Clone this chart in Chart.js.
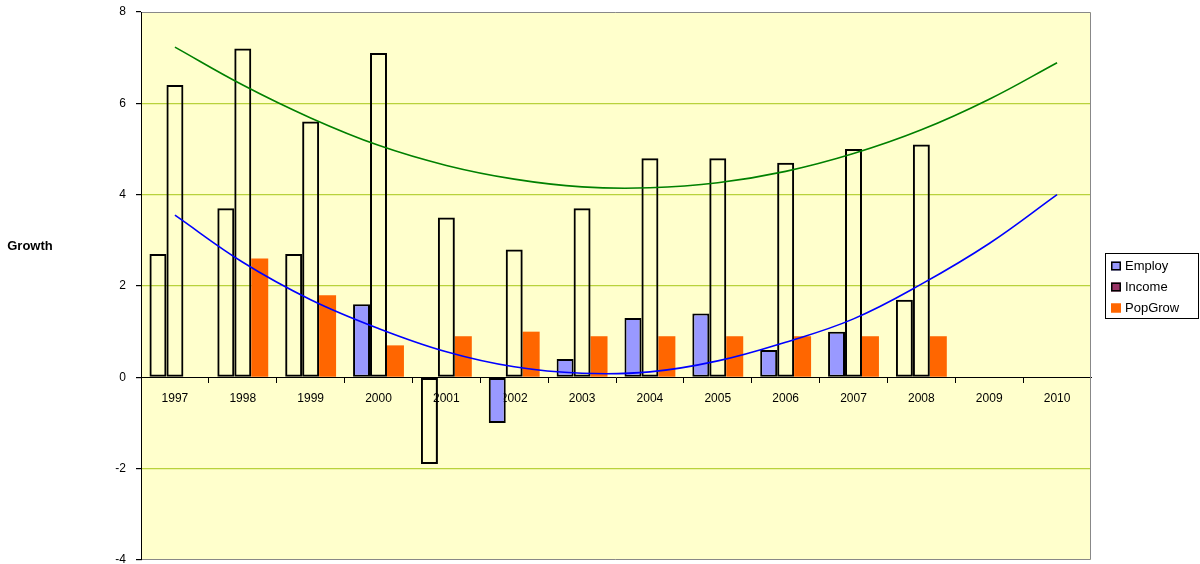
<!DOCTYPE html>
<html>
<head>
<meta charset="utf-8">
<script src="https://cdn.jsdelivr.net/npm/chart.js@4/dist/chart.umd.min.js"></script>
<style>
  html, body { margin: 0; padding: 0; background: #fff; }
  #wrap { width: 1200px; height: 564px; position: relative; }
</style>
</head>
<body>
<div id="wrap"><canvas id="growthChart" width="1200" height="564"></canvas></div>
<script>
const years = ['1997', '1998', '1999', '2000', '2001', '2002', '2003', '2004', '2005', '2006', '2007', '2008', '2009', '2010'];
const employ = [2.7, 3.7, 2.7, 1.6, -1.9, -1.0, 0.4, 1.3, 1.4, 0.6, 1.0, 1.7, null, null];
const income = [6.4, 7.2, 5.6, 7.1, 3.5, 2.8, 3.7, 4.8, 4.8, 4.7, 5.0, 5.1, null, null];
const popGrow = [null, 2.6, 1.8, 0.7, 0.9, 1.0, 0.9, 0.9, 0.9, 0.9, 0.9, 0.9, null, null];
// polynomial trend lines, read at each year
const incomeTrend = [7.23, 6.40, 5.68, 5.08, 4.64, 4.34, 4.17, 4.15, 4.26, 4.51, 4.90, 5.42, 6.09, 6.89];
const employTrend = [3.55, 2.52, 1.70, 1.07, 0.56, 0.23, 0.09, 0.12, 0.36, 0.77, 1.28, 2.04, 2.93, 4.00];
const yTicks = [-4, -2, 0, 2, 4, 6, 8];

const FONT = "'Liberation Sans', Arial, sans-serif";
const PLOT_BG = '#FFFFCC';
const GRID = '#B8D23C';
const EMPLOY = '#9999FF';
const INCOME = '#993366';
const POP = '#FF6600';

// Employ bars that Excel left unfilled
const employOpen = ['1997', '1998', '1999', '2001', '2008'];

const plotBackground = {
  id: 'plotBackground',
  beforeDraw(chart) {
    const { ctx, chartArea: a } = chart;
    ctx.save();
    ctx.fillStyle = PLOT_BG;
    ctx.fillRect(a.left, a.top, a.right - a.left, a.bottom - a.top);
    ctx.restore();
  },
  afterDraw(chart) {
    const { ctx, chartArea: a } = chart;
    ctx.save();
    ctx.strokeStyle = '#888';
    ctx.lineWidth = 1;
    ctx.beginPath();
    ctx.moveTo(a.left, a.top + 0.5);
    ctx.lineTo(a.right - 0.5, a.top + 0.5);
    ctx.lineTo(a.right - 0.5, a.bottom - 0.5);
    ctx.lineTo(a.left, a.bottom - 0.5);
    ctx.stroke();
    ctx.strokeStyle = '#000';
    ctx.beginPath();
    ctx.moveTo(a.left + 0.5, a.top);
    ctx.lineTo(a.left + 0.5, a.bottom);
    ctx.stroke();

    // axis title
    ctx.fillStyle = '#000';
    ctx.font = 'bold 13px ' + FONT;
    ctx.textAlign = 'center';
    ctx.textBaseline = 'middle';
    ctx.fillText('Growth', 30, 246);

    // legend box
    const lx = 1105, ly = 253, lw = 93, lh = 65;
    ctx.fillStyle = '#fff';
    ctx.fillRect(lx, ly, lw, lh);
    ctx.strokeStyle = '#000';
    ctx.strokeRect(lx + 0.5, ly + 0.5, lw, lh);
    const items = [
      { label: 'Employ', color: EMPLOY, border: '#000' },
      { label: 'Income', color: INCOME, border: '#000' },
      { label: 'PopGrow', color: POP, border: POP }
    ];
    ctx.font = '13px ' + FONT;
    ctx.textAlign = 'left';
    ctx.lineWidth = 1.5;
    items.forEach((it, i) => {
      const cy = ly + 13 + i * 21;
      ctx.fillStyle = it.color;
      ctx.fillRect(lx + 6, cy - 4.5, 10, 9);
      ctx.strokeStyle = it.border;
      ctx.strokeRect(lx + 6.75, cy - 3.75, 8.5, 7.5);
      ctx.fillStyle = '#000';
      ctx.fillText(it.label, lx + 20, cy);
    });
    ctx.restore();
  }
};

const ctx = document.getElementById('growthChart').getContext('2d');
new Chart(ctx, {
  type: 'bar',
  data: {
    labels: years,
    datasets: [
      {
        type: 'line', label: 'Income trend', data: incomeTrend,
        borderColor: '#008000', borderWidth: 1.6, pointRadius: 0, tension: 0.4,
        fill: false, order: 0
      },
      {
        type: 'line', label: 'Employ trend', data: employTrend,
        borderColor: '#0000FF', borderWidth: 1.6, pointRadius: 0, tension: 0.4,
        fill: false, order: 0
      },
      {
        label: 'Employ', data: employ, order: 1,
        backgroundColor: years.map(y => employOpen.includes(y) ? 'rgba(0,0,0,0)' : EMPLOY),
        borderColor: '#000', borderWidth: 2, borderSkipped: false
      },
      {
        label: 'Income', data: income, order: 1,
        backgroundColor: 'rgba(0,0,0,0)',
        borderColor: '#000', borderWidth: 2, borderSkipped: false
      },
      {
        label: 'PopGrow', data: popGrow, order: 1,
        backgroundColor: POP, borderColor: POP, borderWidth: 0
      }
    ]
  },
  options: {
    responsive: false,
    animation: false,
    layout: { padding: { top: 12, right: 109, bottom: 4, left: 0 } },
    datasets: { bar: { categoryPercentage: 0.75, barPercentage: 1.0 } },
    plugins: { legend: { display: false }, tooltip: { enabled: false } },
    scales: {
      x: {
        position: { y: 0 },
        offset: true,
        afterFit(scale) { scale.height = 0; scale.paddingLeft = 0; scale.paddingRight = 0; },
        grid: { drawOnChartArea: false, drawTicks: true, tickLength: 5, color: '#000', offset: true },
        border: { color: '#000', width: 1 },
        ticks: { color: '#000', font: { family: FONT, size: 12 }, padding: 9, maxRotation: 0 }
      },
      y: {
        min: -4, max: 8,
        afterBuildTicks(scale) { scale.ticks = yTicks.map(v => ({ value: v })); },
        afterFit(scale) { scale.width = 141; scale.paddingTop = 0; scale.paddingBottom = 0; },
        grid: {
          color: c => (c.tick.value === 0 || c.tick.value === 8 || c.tick.value === -4) ? 'rgba(0,0,0,0)' : GRID,
          tickColor: '#000', tickLength: 5, lineWidth: 1.2
        },
        border: { color: '#000', width: 1 },
        ticks: { color: '#000', font: { family: FONT, size: 12 }, padding: 10 }
      }
    }
  },
  plugins: [plotBackground]
});
</script>
</body>
</html>
